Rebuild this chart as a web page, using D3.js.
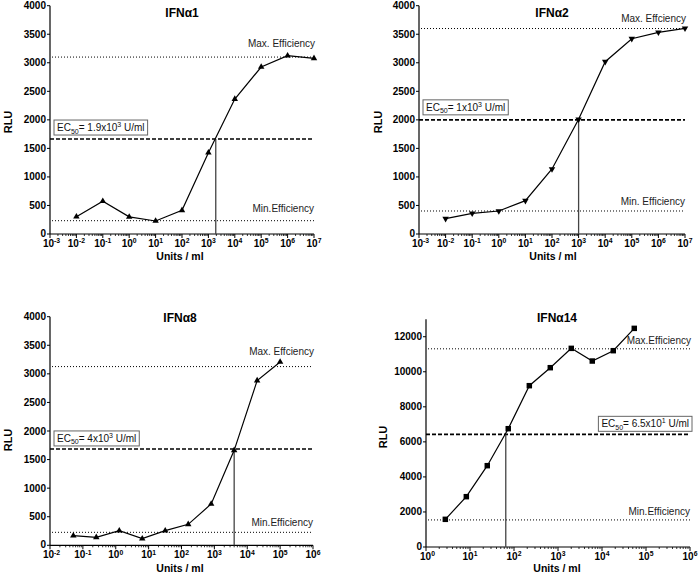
<!DOCTYPE html>
<html><head><meta charset="utf-8">
<script src="https://cdn.jsdelivr.net/npm/d3@7"></script>
<style>body{margin:0;background:#fff}svg{display:block}text{font-family:"Liberation Sans",Arial,sans-serif}</style>
</head><body><svg id="c" width="700" height="573"></svg>
<script>
// ---- data ----
const titles = ["IFN\u03b11", "IFN\u03b12", "IFN\u03b18", "IFN\u03b114"];
const dose1 = [1e-2, 1e-1, 1e0, 1e1, 1e2, 1e3, 1e4, 1e5, 1e6, 1e7];
const rlu1 = [303, 575, 300, 228, 415, 1425, 2365, 2926, 3124, 3078];
const dose2 = [1e-2, 1e-1, 1e0, 1e1, 1e2, 1e3, 1e4, 1e5, 1e6, 1e7];
const rlu2 = [268, 362, 403, 584, 1139, 2010, 3019, 3422, 3533, 3604];
const dose8 = [0.0512, 0.256, 1.28, 6.4, 32, 160, 800, 4000, 20000, 100000];
const rlu8 = [169, 140, 257, 117, 257, 367, 723, 1662, 2882, 3208];
const dose14 = [2.75, 8.25, 24.7, 74, 223, 668, 2005, 6014, 18040, 54130];
const rlu14 = [1579, 2872, 4641, 6752, 9206, 10233, 11336, 10613, 11203, 12477];
const maxEff = [3100, 3600, 3127, 11310];
const minEff = [233, 403, 227, 1545];
const ec50Rlu = [1664, 2000, 1686, 6430];
const ec50Dose = [1.9e3, 1e3, 4e3, 65];
const ec50Mant = ["1.9", "1", "4", "6.5"];
const ec50Exp = ["3", "3", "3", "1"];
const maxLabels = ["Max. Efficiency", "Max. Effciency", "Max. Effciency", "Max.Efficiency"];
const minLabels = ["Min.Efficiency", "Min. Efficiency", "Min.Efficiency", "Min.Efficiency"];
const xDomains = [[1e-3, 1e7], [1e-3, 1e7], [1e-2, 1e6], [1e0, 1e6]];
const yDomains = [[0, 4000], [0, 4000], [0, 4000], [0, 13000]];
const yTickVals = [d3.range(0, 4001, 500), d3.range(0, 4001, 500), d3.range(0, 4001, 500), d3.range(0, 12001, 2000)];
const markers = ["up", "down", "up", "square"];

// ---- layout (pixels) ----
const layout = [
  {x0: 50, x1: 314, y0: 234, y1: 5.7, boxRight: false, maxLy: 47, minLy: 212, tx: 182, ty: 17, ux: 180, uy: 260, rx: 8, ry: 122, boxGap: 4},
  {x0: 419, x1: 685, y0: 234, y1: 5.7, boxRight: false, maxLy: 22, minLy: 205, tx: 552, ty: 17, ux: 553, uy: 260, rx: 378, ry: 122, boxGap: 5},
  {x0: 50, x1: 313, y0: 545.3, y1: 316.7, boxRight: false, maxLy: 355, minLy: 526, tx: 180, ty: 322, ux: 180, uy: 571.5, rx: 8, ry: 440, boxGap: 3},
  {x0: 426, x1: 690, y0: 547, y1: 319.2, boxRight: true, maxLy: 344, minLy: 515, tx: 557, ty: 322, ux: 557, uy: 571.5, rx: 383, ry: 437, boxGap: 3}
];
const doses = [dose1, dose2, dose8, dose14];
const rlus = [rlu1, rlu2, rlu8, rlu14];

const svg = d3.select("#c");

function sup(sel, base, exp, size) {
  sel.append("tspan").text(base);
  sel.append("tspan").attr("font-size", size * 0.68).attr("dy", -size * 0.36).text(exp);
}

layout.forEach((L, i) => {
  const g = svg.append("g");
  const x = d3.scaleLog().domain(xDomains[i]).range([L.x0, L.x1]);
  const y = d3.scaleLinear().domain(yDomains[i]).range([L.y0, L.y1]);

  // axes lines
  g.append("line").attr("x1", L.x0).attr("x2", L.x0).attr("y1", L.y0).attr("y2", L.y1).attr("stroke", "#000").attr("stroke-width", 1.2);
  g.append("line").attr("x1", L.x0).attr("x2", L.x1).attr("y1", L.y0).attr("y2", L.y0).attr("stroke", "#000").attr("stroke-width", 1.2);

  // y ticks
  yTickVals[i].forEach(v => {
    g.append("line").attr("x1", L.x0 - 3).attr("x2", L.x0).attr("y1", y(v)).attr("y2", y(v)).attr("stroke", "#000");
    g.append("text").attr("x", L.x0 - 4).attr("y", y(v) + (v === 0 ? 2.5 : 3.5)).attr("text-anchor", "end")
      .attr("font-size", 10).attr("font-weight", "bold").text(v);
  });

  // x ticks (log decades)
  const e0 = Math.round(Math.log10(xDomains[i][0])), e1 = Math.round(Math.log10(xDomains[i][1]));
  for (let e = e0; e <= e1; e++) {
    const px = x(Math.pow(10, e));
    g.append("line").attr("x1", px).attr("x2", px).attr("y1", L.y0).attr("y2", L.y0 + 4).attr("stroke", "#000");
    const t = g.append("text").attr("x", px + (e === e0 ? 1.5 : 0)).attr("y", L.y0 + 13).attr("text-anchor", "middle")
      .attr("font-size", 10).attr("font-weight", "bold");
    sup(t, "10", String(e), 10);
    if (e < e1) {
      for (let m = 2; m <= 9; m++) {
        const mx = x(m * Math.pow(10, e));
        g.append("line").attr("x1", mx).attr("x2", mx).attr("y1", L.y0).attr("y2", L.y0 + 2).attr("stroke", "#000").attr("stroke-width", 0.8);
      }
    }
  }

  // reference lines
  g.append("line").attr("x1", L.x0 + 2).attr("x2", L.x1).attr("y1", y(maxEff[i])).attr("y2", y(maxEff[i]))
    .attr("stroke", "#000").attr("stroke-width", 1).attr("stroke-dasharray", "1,2");
  g.append("line").attr("x1", L.x0 + 2).attr("x2", L.x1).attr("y1", y(minEff[i])).attr("y2", y(minEff[i]))
    .attr("stroke", "#000").attr("stroke-width", 1).attr("stroke-dasharray", "1,2");
  g.append("line").attr("x1", L.x0).attr("x2", L.x1).attr("y1", y(ec50Rlu[i])).attr("y2", y(ec50Rlu[i]))
    .attr("stroke", "#000").attr("stroke-width", 1.6).attr("stroke-dasharray", "4,2");
  g.append("line").attr("x1", x(ec50Dose[i])).attr("x2", x(ec50Dose[i])).attr("y1", y(ec50Rlu[i])).attr("y2", L.y0)
    .attr("stroke", "#444").attr("stroke-width", 1.3);

  g.append("text").attr("x", L.x1 + 1).attr("y", L.maxLy).attr("text-anchor", "end").attr("font-size", 10).attr("fill", "#222").text(maxLabels[i]);
  g.append("text").attr("x", L.x1).attr("y", L.minLy).attr("text-anchor", "end").attr("font-size", 10).attr("fill", "#222").text(minLabels[i]);

  // data line
  const pts = doses[i].map((d, k) => [d, rlus[i][k]]);
  g.append("path").attr("d", d3.line().x(p => x(p[0])).y(p => y(p[1]))(pts))
    .attr("fill", "none").attr("stroke", "#000").attr("stroke-width", 1.2);
  const symType = markers[i] === "square" ? d3.symbolSquare : d3.symbolTriangle;
  const symSize = markers[i] === "square" ? 30 : 18;
  g.selectAll(".m").data(pts).enter().append("path")
    .attr("d", d3.symbol().type(symType).size(symSize))
    .attr("transform", p => `translate(${x(p[0])},${y(p[1])})` + (markers[i] === "down" ? " rotate(180)" : ""))
    .attr("fill", "#000");

  // EC50 box
  const bt = g.append("text").attr("font-size", 10).attr("fill", "#111");
  bt.append("tspan").text("EC");
  bt.append("tspan").attr("font-size", 7).attr("dy", 2.5).text("50");
  bt.append("tspan").attr("dy", -2.5).text("= " + ec50Mant[i] + "x10");
  bt.append("tspan").attr("font-size", 7).attr("dy", -4).text(ec50Exp[i]);
  bt.append("tspan").attr("dy", 4).text(" U/ml");
  const bb = bt.node().getBBox();
  const bw = bb.width + 6, bh = 15;
  const by = y(ec50Rlu[i]) - L.boxGap - bh;
  const bx = L.boxRight ? L.x1 + 2 - bw : L.x0 + 4;
  g.insert("rect", "text:last-of-type").attr("x", bx).attr("y", by).attr("width", bw).attr("height", bh)
    .attr("fill", "#fff").attr("stroke", "#666").attr("stroke-width", 1);
  bt.attr("x", bx + 3).attr("y", by + 11);
  bt.selectAll("tspan").filter((d, k) => k === 0).attr("x", bx + 3);
  bt.raise();

  // titles
  g.append("text").attr("x", L.tx).attr("y", L.ty).attr("text-anchor", "middle").attr("font-size", 12).attr("font-weight", "bold").text(titles[i]);
  g.append("text").attr("x", L.ux).attr("y", L.uy).attr("text-anchor", "middle").attr("font-size", 10.5).attr("font-weight", "bold").text("Units / ml");
  g.append("text").attr("transform", `translate(${L.rx + 4},${L.ry}) rotate(-90)`).attr("text-anchor", "middle").attr("font-size", 11).attr("font-weight", "bold").text("RLU");
});
</script></body></html>
